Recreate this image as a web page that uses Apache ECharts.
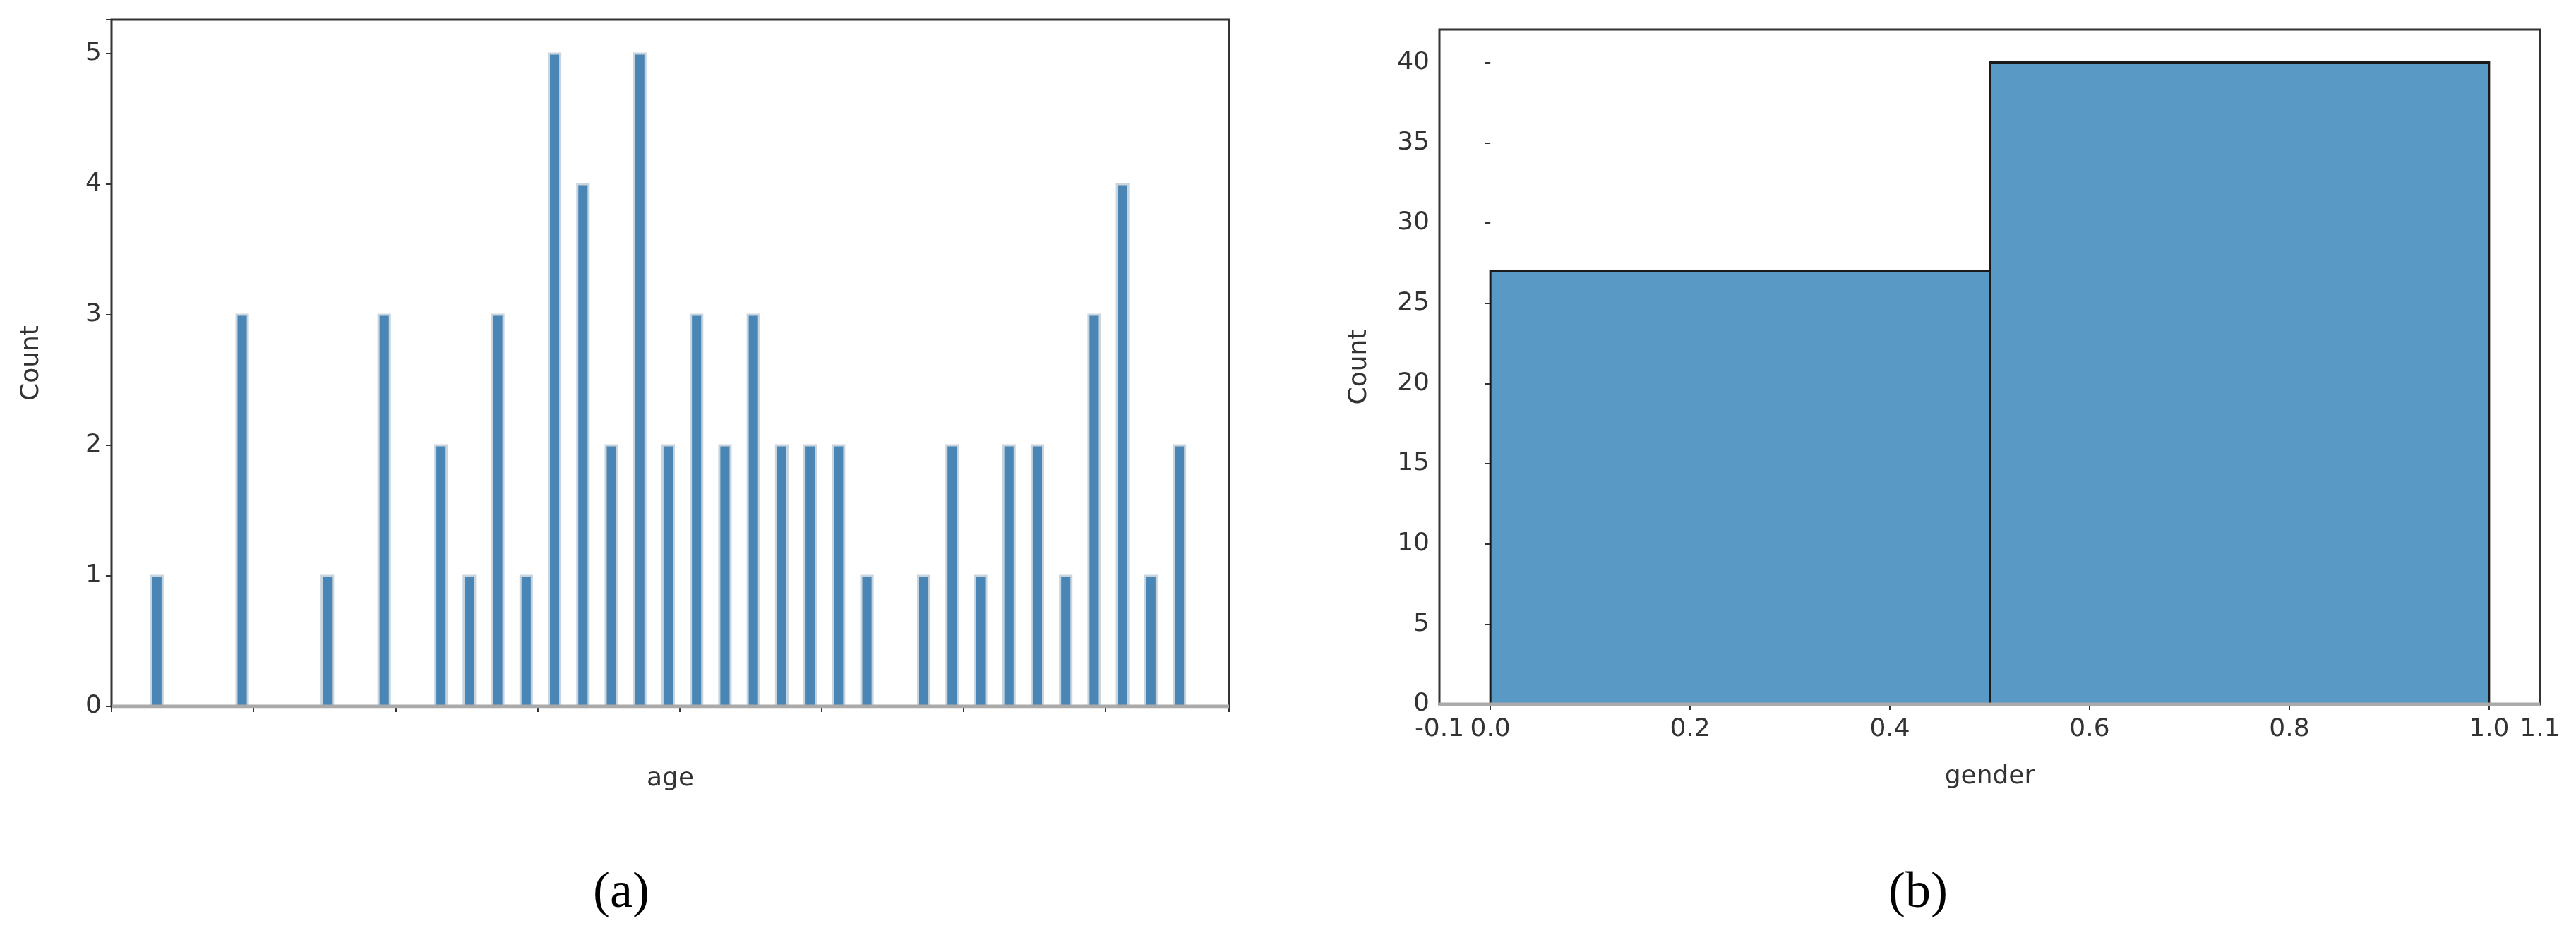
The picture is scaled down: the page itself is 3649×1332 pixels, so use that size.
<!DOCTYPE html>
<html><head><meta charset="utf-8">
<script src="https://cdn.jsdelivr.net/npm/echarts@6/dist/echarts.min.js"></script>
<style>html,body{margin:0;background:#fff}#c{width:3649px;height:1332px}</style>
</head><body><div id="c"></div>
<script>
const ages = [28,31,34,36,38,39,40,41,42,43,44,45,46,47,48,49,50,51,52,53,55,56,57,58,59,60,61,62,63,64];
const ageCounts = [1,3,1,3,2,1,3,1,5,4,2,5,2,3,2,3,2,2,2,1,1,2,1,2,2,1,3,4,1,2];
const genderBinStart = [0.0, 0.5];
const genderBinEnd = [0.5, 1.0];
const genderCounts = [27, 40];
const ageTicks = [30,35,40,45,50,55,60,65];

const chart = echarts.init(document.getElementById('c'));
const tickLabel = {color:'#333', fontSize:36, fontFamily:'DejaVu Sans'};
const nameStyle = {color:'#333', fontSize:36, fontFamily:'DejaVu Sans'};
function rectItem(x0,x1,y,style){
  return function(params, api){
    const a = api.coord([api.value(0), api.value(2)]);
    const b = api.coord([api.value(1), 0]);
    return {type:'rect', shape:{x:a[0], y:a[1], width:b[0]-a[0], height:b[1]-a[1]}, style:style};
  };
}
chart.setOption({
  animation:false,
  grid:[
    {left:158, right:1908, top:28, bottom:331, show:true, borderColor:'#333', borderWidth:3},
    {left:2039, right:51, top:42, bottom:334, show:true, borderColor:'#333', borderWidth:3}
  ],
  xAxis:[
    {gridIndex:0, type:'value', min:26.4, max:65.75, interval:5,
     axisLabel:{...tickLabel, margin:18, formatter:v=>ageTicks.includes(v)?String(v):''},
     customValues: ageTicks,
     axisTick:{show:true, length:8, lineStyle:{color:'#333', width:2}},
     axisLine:{show:false}, splitLine:{show:false},
     name:'age', nameLocation:'middle', nameGap:85, nameTextStyle:nameStyle},
    {gridIndex:1, type:'value', min:-0.051, max:1.051,
     axisLabel:{...tickLabel, margin:18, formatter:v=>v.toFixed(1)},
     axisTick:{show:true, length:8, lineStyle:{color:'#333', width:2}, customValues:[0,0.2,0.4,0.6,0.8,1.0]},
     axisLine:{show:false}, splitLine:{show:false},
     name:'gender', nameLocation:'middle', nameGap:85, nameTextStyle:nameStyle}
  ],
  yAxis:[
    {gridIndex:0, type:'value', min:0, max:5.26, interval:1,
     axisLabel:{...tickLabel, margin:14, formatter:v=>Number.isInteger(v)?String(v):''},
     axisTick:{show:true, length:8, lineStyle:{color:'#333', width:2}},
     axisLine:{show:false}, splitLine:{show:false},
     name:'Count', nameLocation:'middle', nameGap:95, nameTextStyle:nameStyle},
    {gridIndex:1, type:'value', min:0, max:42.05, interval:5,
     axisLabel:{...tickLabel, margin:14, formatter:v=>v%5===0?String(v):''},
     axisTick:{show:true, length:8, lineStyle:{color:'#333', width:2}},
     axisLine:{show:false}, splitLine:{show:false},
     name:'Count', nameLocation:'middle', nameGap:95, nameTextStyle:nameStyle}
  ],
  series:[
    {type:'custom', xAxisIndex:0, yAxisIndex:0,
     data: ages.map((a,i)=>[a-0.2, a+0.2, ageCounts[i]]),
     renderItem: rectItem(0,0,0,{fill:'#4a86b5', stroke:'#c8d4de', lineWidth:3}),
     encode:{x:[0,1], y:2}},
    {type:'custom', xAxisIndex:1, yAxisIndex:1,
     data: genderCounts.map((c,i)=>[genderBinStart[i], genderBinEnd[i], c]),
     renderItem: rectItem(0,0,0,{fill:'#5899c6', stroke:'#1a1a1a', lineWidth:3}),
     encode:{x:[0,1], y:2}},
    {type:'line', xAxisIndex:0, yAxisIndex:0, data:[[26.4,0],[65.75,0]], symbol:'none', lineStyle:{color:'#aaa', width:5}, silent:true},
    {type:'line', xAxisIndex:1, yAxisIndex:1, data:[[-0.051,0],[1.051,0]], symbol:'none', lineStyle:{color:'#aaa', width:5}, silent:true}
  ],
  graphic:[
    {type:'text', left:840, top:1230, style:{text:'(a)', font:'72px "Liberation Serif"', fill:'#000'}},
    {type:'text', left:2675, top:1230, style:{text:'(b)', font:'72px "Liberation Serif"', fill:'#000'}}
  ]
});
</script></body></html>
